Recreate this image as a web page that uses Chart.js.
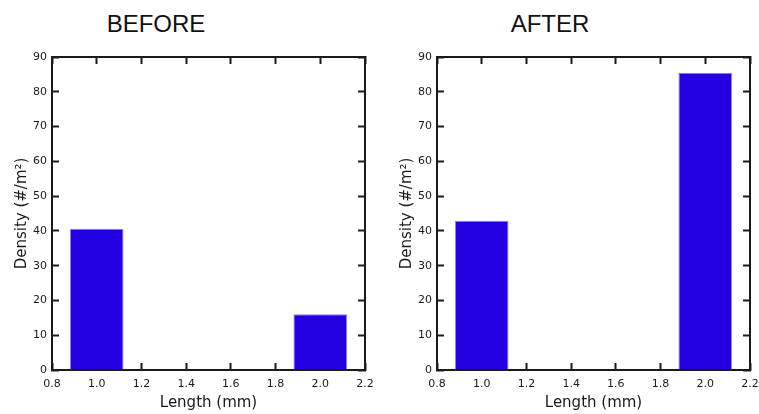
<!DOCTYPE html>
<html>
<head>
<meta charset="utf-8">
<script src="https://cdn.jsdelivr.net/npm/chart.js@4/dist/chart.umd.min.js"></script>
<style>
  body { margin:0; background:#fff; }
  #wrap { position:relative; width:759px; height:414px; overflow:hidden; }
  .ttl { position:absolute; top:12px; width:200px; text-align:center; font-family:"Liberation Sans", Arial, sans-serif; font-size:24px; line-height:24px; color:#111; }
  canvas { position:absolute; top:0; }
</style>
</head>
<body>
<div id="wrap">
  <div class="ttl" id="t1" style="left:56px">BEFORE</div>
  <div class="ttl" id="t2" style="left:450px">AFTER</div>
  <canvas id="chartBefore" width="380" height="414" style="left:0"></canvas>
  <canvas id="chartAfter" width="379" height="414" style="left:380px"></canvas>
</div>
<script>
// bar centres (mm) and densities
var lengths = [1.0, 2.0];
var densityBefore = [40.6, 16.0];
var densityAfter = [42.9, 85.5];

// axis ranges / tick steps
var xRange = [0.8, 2.2];
var xStep = 0.2;
var yRange = [0, 90];
var yStep = 10;

var xTitle = "Length (mm)";
var yTitle = "Density (#/m²)";

var ink = "#1a1a1a";
var tickFont = { family: "DejaVu Sans", size: 11 };
var titleFont = { family: "DejaVu Sans", size: 15 };

function toPoints(vals){
	var pts = [];
	for(var i = 0;i<lengths.length;i++){
		pts.push({ x: lengths[i], y: vals[i] });
	}
	return pts;
}

// fixed axis sizes so the plot box lands where the original has it
function fixH(h){
	return function(s){ s.height = h; s.paddingLeft = 0; s.paddingRight = 0; };
}
function fixW(w){
	return function(s){ s.width = w; s.paddingTop = 0; s.paddingBottom = 0; };
}

function makeChart(id, vals, yWidth, yTitlePad, rightPad){
	var ctx = document.getElementById(id).getContext("2d");
	var frame = { display: true, color: ink, width: 2 };
	var inward = { display: true, drawOnChartArea: false, drawTicks: true, tickLength: -7, tickColor: ink, tickWidth: 2 };
	return new Chart(ctx, {
		type: 'bar',
		data: {
			datasets: [{
				data: toPoints(vals),
				backgroundColor: "#2300e2",
				borderColor: "#8b82ff",
				borderWidth: 1,
				categoryPercentage: 1.2,
				barPercentage: 1.0
			}]
		},
		options: {
			responsive: false,
			animation: false,
			devicePixelRatio: 1,
			layout: { padding: { left: 0, right: rightPad, top: 57, bottom: 0 } },
			plugins: { legend: { display: false }, tooltip: { enabled: false } },
			scales: {
				x: {
					type: 'linear', position: 'bottom', offset: false,
					min: xRange[0], max: xRange[1],
					grid: Object.assign({ offset: false }, inward),
					border: frame,
					ticks: { stepSize: xStep, padding: 15, color: ink, font: tickFont, maxRotation: 0,
						callback: function(v){ return v.toFixed(1); } },
					title: { display: true, text: xTitle, color: ink, font: titleFont, padding: { top: 0, bottom: 2 } },
					afterFit: fixH(44)
				},
				x2: {
					type: 'linear', position: 'top', offset: false,
					min: xRange[0], max: xRange[1],
					grid: Object.assign({ offset: false }, inward),
					border: frame,
					ticks: { stepSize: xStep, display: false },
					afterFit: fixH(0)
				},
				y: {
					type: 'linear', position: 'left',
					min: yRange[0], max: yRange[1],
					grid: inward,
					border: frame,
					ticks: { stepSize: yStep, padding: 12, color: ink, font: tickFont },
					title: { display: true, text: yTitle, color: ink, font: titleFont, padding: { top: yTitlePad, bottom: 0 } },
					afterFit: fixW(yWidth)
				},
				y2: {
					type: 'linear', position: 'right',
					min: yRange[0], max: yRange[1],
					grid: inward,
					border: frame,
					ticks: { stepSize: yStep, display: false },
					afterFit: fixW(0)
				}
			}
		}
	});
}

var before = makeChart("chartBefore", densityBefore, 52, 13, 15);
var after = makeChart("chartAfter", densityAfter, 57, 18, 9);
</script>
</body>
</html>
